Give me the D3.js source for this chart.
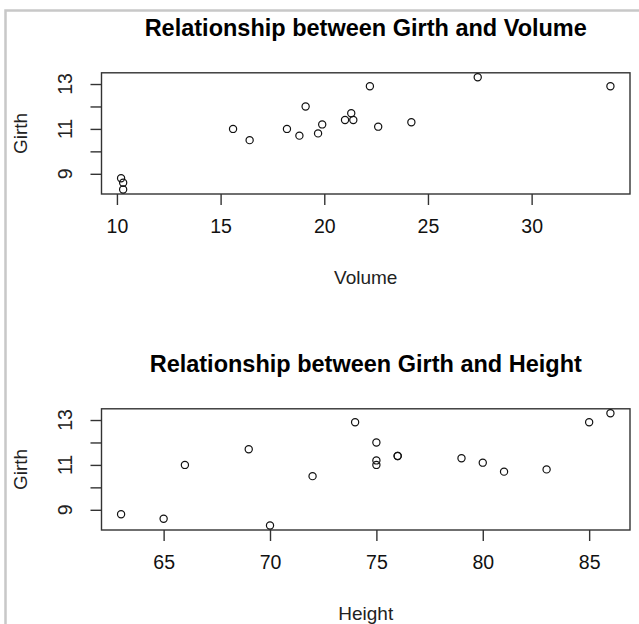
<!DOCTYPE html>
<html>
<head>
<meta charset="utf-8">
<script src="https://cdn.jsdelivr.net/npm/d3@7"></script>
<style>
  body { margin: 0; background: #fff; }
  svg text { font-family: "Liberation Sans", Arial, sans-serif; fill: #111; }
</style>
</head>
<body>
<div id="chart"></div>
<script>
/* Data (trees, first 18 rows) */
var girth  = [8.3, 8.6, 8.8, 10.5, 10.7, 10.8, 11.0, 11.0, 11.1, 11.2, 11.3, 11.4, 11.4, 11.7, 12.0, 12.9, 12.9, 13.3];
var height = [70, 65, 63, 72, 81, 83, 66, 75, 80, 75, 79, 76, 76, 69, 75, 74, 85, 86];
var volume = [10.3, 10.3, 10.2, 16.4, 18.8, 19.7, 15.6, 18.2, 22.6, 19.9, 24.2, 21.0, 21.4, 21.3, 19.1, 22.2, 33.8, 27.4];

var girthTicks  = [9, 10, 11, 12, 13];
var girthLabels = [9, 11, 13];
var volumeTicks = [10, 15, 20, 25, 30];
var heightTicks = [65, 70, 75, 80, 85];

var W = 639, H = 624;

var svg = d3.select('#chart').append('svg')
    .attr('width', W)
    .attr('height', H);

// outer frame
svg.append('rect')
    .attr('x', 5.5).attr('y', 10.5)
    .attr('width', W + 10).attr('height', H + 10)
    .attr('fill', 'none')
    .attr('stroke', '#c8c8c8')
    .attr('stroke-width', 2.5);

/* R style padded extent */
function rExtent(v){
  var e = d3.extent(v), pad = (e[1] - e[0]) * 0.04;
  return [e[0] - pad, e[1] + pad];
}

/* One scatter panel */
function panel(top, xs, xTicks, xName, title){
  var left = 101.5, right = 630, bottom = top + 121.2;

  var x = d3.scaleLinear().domain(rExtent(xs)).range([left, right]);
  var y = d3.scaleLinear().domain(rExtent(girth)).range([bottom, top]);

  var g = svg.append('g');

  // title
  g.append('text')
      .attr('x', (left + right) / 2)
      .attr('y', top - 37)
      .attr('text-anchor', 'middle')
      .style('font-size', '23.5px')
      .style('font-weight', 'bold')
      .style('fill', '#000')
      .text(title);

  // box
  g.append('rect')
      .attr('x', left).attr('y', top)
      .attr('width', right - left).attr('height', bottom - top)
      .attr('fill', 'none')
      .attr('stroke', '#333')
      .attr('stroke-width', 1.4);

  // x axis
  var xa = g.append('g')
      .attr('transform', 'translate(0,' + bottom + ')')
      .call(d3.axisBottom(x).tickValues(xTicks).tickSize(11).tickPadding(14).tickSizeOuter(0));
  xa.select('.domain').remove();
  xa.selectAll('.tick line').attr('stroke', '#333').attr('stroke-width', 1.4);
  xa.selectAll('.tick text')
      .style('font-size', '19.5px')
      .style('font-family', '"Liberation Sans", Arial, sans-serif')
      .attr('fill', '#222');

  // y axis
  var ya = g.append('g')
      .attr('transform', 'translate(' + left + ',0)')
      .call(d3.axisLeft(y).tickValues(girthTicks).tickSize(11).tickFormat(''));
  ya.select('.domain').remove();
  ya.selectAll('.tick line').attr('stroke', '#333').attr('stroke-width', 1.4);

  g.selectAll('.ylab').data(girthLabels)
    .enter().append('text')
      .attr('class', 'ylab')
      .attr('transform', function(d){ return 'translate(72,' + y(d) + ') rotate(-90)'; })
      .attr('text-anchor', 'middle')
      .style('font-size', '19.5px')
      .style('fill', '#222')
      .text(function(d){ return d; });

  // axis names
  g.append('text')
      .attr('x', (left + right) / 2)
      .attr('y', bottom + 90)
      .attr('text-anchor', 'middle')
      .style('font-size', '19px')
      .style('fill', '#222')
      .text(xName);

  g.append('text')
      .attr('transform', 'translate(27,' + ((top + bottom) / 2) + ') rotate(-90)')
      .attr('text-anchor', 'middle')
      .style('font-size', '19px')
      .style('fill', '#222')
      .text('Girth');

  // points
  g.selectAll('circle').data(xs)
    .enter().append('circle')
      .attr('cx', function(d){ return x(d); })
      .attr('cy', function(d, i){ return y(girth[i]); })
      .attr('r', 3.6)
      .attr('fill', 'none')
      .attr('stroke', '#111')
      .attr('stroke-width', 1.2);
}

panel(72.8, volume, volumeTicks, 'Volume', 'Relationship between Girth and Volume');
panel(408.8, height, heightTicks, 'Height', 'Relationship between Girth and Height');
</script>
</body>
</html>
